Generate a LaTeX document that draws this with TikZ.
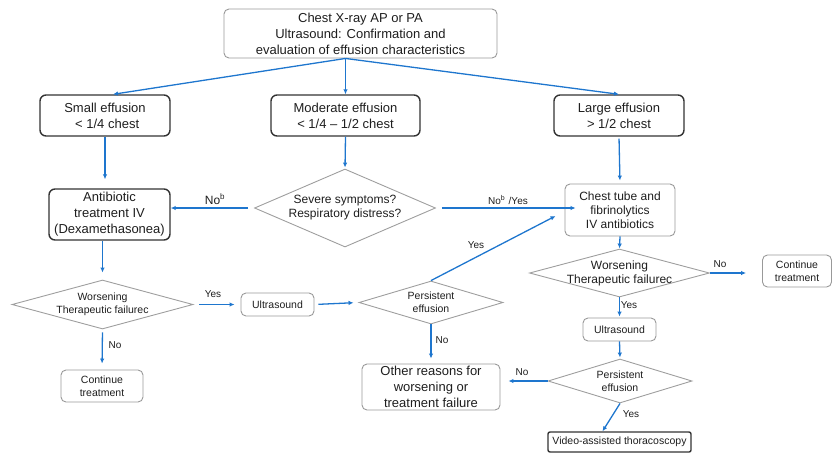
\documentclass[tikz,border=0pt]{standalone}
\usepackage{fontspec}
\setmainfont{Liberation Sans}
\usetikzlibrary{arrows.meta,shapes.geometric}
\definecolor{flowblue}{RGB}{30,118,206}
\definecolor{inkgray}{RGB}{30,30,30}

\begin{document}
\begin{tikzpicture}[x=1pt,y=-1pt,
  every node/.style={align=center,inner sep=0pt,text=inkgray},
  darkbox/.style={draw=black!80,line width=1.4pt,rounded corners=6pt},
  greybox/.style={draw=black!40,line width=0.9pt,rounded corners=5pt},
  choice/.style={diamond,draw=black!38,line width=0.9pt,aspect=3.5,inner xsep=-12pt,inner ysep=-3pt},
  flow/.style={-{Latex[length=5pt,width=4.5pt]},flowblue,line width=1.3pt},
  big/.style={font=\fontsize{13}{16}\selectfont},
  mid/.style={font=\fontsize{12}{14}\selectfont},
  sml/.style={font=\fontsize{10.5}{13}\selectfont},
  lbl/.style={font=\fontsize{10}{12}\selectfont}]
\useasboundingbox (0,0) rectangle (832,453);

% top and the three effusion sizes
\node[greybox,big,minimum width=273,minimum height=49] (top) at (360.5,33.5)
  {Chest X-ray AP or PA\\Ultrasound: Confirmation and\\evaluation of effusion characteristics};
\node[darkbox,big,minimum width=130,minimum height=41] (small) at (105,115.5) {Small effusion\\\,\,< 1/4 chest};
\node[darkbox,big,minimum width=149,minimum height=41] (moderate) at (345.5,115.5) {Moderate effusion\\< 1/4 – 1/2 chest};
\node[darkbox,big,minimum width=130,minimum height=41] (large) at (619,115.5) {Large effusion\\> 1/2 chest};

% second row
\node[darkbox,big,minimum width=121,minimum height=51] (antib) at (109.5,214.5) {Antibiotic\\treatment IV\\(Dexamethasonea)};
\node[choice,mid,minimum width=181,minimum height=78] (severe) at (345,208) {Severe symptoms?\\Respiratory distress?};
\node[greybox,mid,minimum width=110,minimum height=52] (chest) at (620,210) {Chest tube and\\fibrinolytics\\IV antibiotics};

% left branch
\node[choice,sml,minimum width=181,minimum height=49] (worsL) at (102.5,304.5) {Worsening\\Therapeutic failurec};
\node[greybox,sml,minimum width=73,minimum height=23] (ultraL) at (277.5,304.5) {Ultrasound};
\node[choice,sml,minimum width=144,minimum height=43] (persM) at (431,302.5) {Persistent\\effusion};
\node[greybox,big,minimum width=138,minimum height=46] (other) at (431,387) {Other reasons for\\worsening or\\treatment failure};
\node[greybox,sml,minimum width=82,minimum height=32] (contL) at (102,386) {Continue\\treatment};

% right branch
\node[choice,mid,minimum width=180,minimum height=48] (worsR) at (619.5,273) {Worsening\\Therapeutic failurec};
\node[greybox,sml,minimum width=69,minimum height=32] (contR) at (797,271) {Continue\\treatment};
\node[greybox,sml,minimum width=73,minimum height=23] (ultraR) at (619.5,329.5) {Ultrasound};
\node[choice,sml,minimum width=144,minimum height=44] (persR) at (620,381) {Persistent\\effusion};
\node[darkbox,sml,rounded corners=2pt,minimum width=143,minimum height=20] (vats) at (619.5,442) {Video-assisted thoracoscopy};

% connectors
\draw[flow] ([xshift=-15pt]top.south) -- ([xshift=8pt]small.north);
\draw[flow] ([xshift=-15pt]top.south) -- (moderate.north);
\draw[flow] ([xshift=-15pt]top.south) -- (large.north);
\draw[flow,shorten >=9pt] (small.south) -- (small.south |- antib.north);
\draw[flow,shorten >=1pt] (moderate.south) -- (severe.north);
\draw[flow,shorten <=6pt] (severe.west) -- (severe.west -| antib.east);
\draw[flow,shorten <=6pt,shorten >=-11pt] (severe.east) -- (severe.east -| chest.west);
\draw[flow,shorten <=2pt,shorten >=3pt] (large.south) -- (chest.north);
\draw[flow,shorten >=7pt] (worsL |- antib.south) -- (worsL.north);
\draw[flow,shorten <=6pt,shorten >=6pt] (worsL.east) -- (ultraL.west);
\draw[flow,shorten <=4pt,shorten >=5pt] (ultraL.east) -- (persM.west);
\draw[flow] (persM.north) -- ([shift={(-9pt,-6pt)}]chest.west);
\draw[flow,shorten >=5pt] (persM.south) -- (other.north);
\draw[flow,shorten <=3pt,shorten >=6pt] (worsL.south) -- (contL.north);
\draw[flow] (chest.south) -- (worsR.north);
\draw[flow,shorten >=16pt] (worsR.east) -- (worsR.east -| contR.west);
\draw[flow,shorten >=1pt] (worsR.south) -- (ultraR.north);
\draw[flow,shorten >=1pt] (ultraR.south) -- (persR.north);
\draw[flow,shorten >=8pt] (persR.west) -- (persR.west -| other.east);
\draw[flow] (persR.south) -- ([xshift=-17pt]vats.north);

% labels
\node[font=\fontsize{12}{13}\selectfont] (nob) at (215,199) {No\textsuperscript{b}};
\node[lbl] (noyes) at (508,200) {No\textsuperscript{b}\,\,/Yes};
\node[lbl] (yesL) at (213,294) {Yes};
\node[lbl] (yesM) at (476,245) {Yes};
\node[lbl] (noM) at (442,340) {No};
\node[lbl] (noL) at (115,345) {No};
\node[lbl] (noR) at (720,264) {No};
\node[lbl] (yesR) at (629,305) {Yes};
\node[lbl] (noP) at (522,372) {No};
\node[lbl] (yesV) at (631,414) {Yes};
\end{tikzpicture}
\end{document}
